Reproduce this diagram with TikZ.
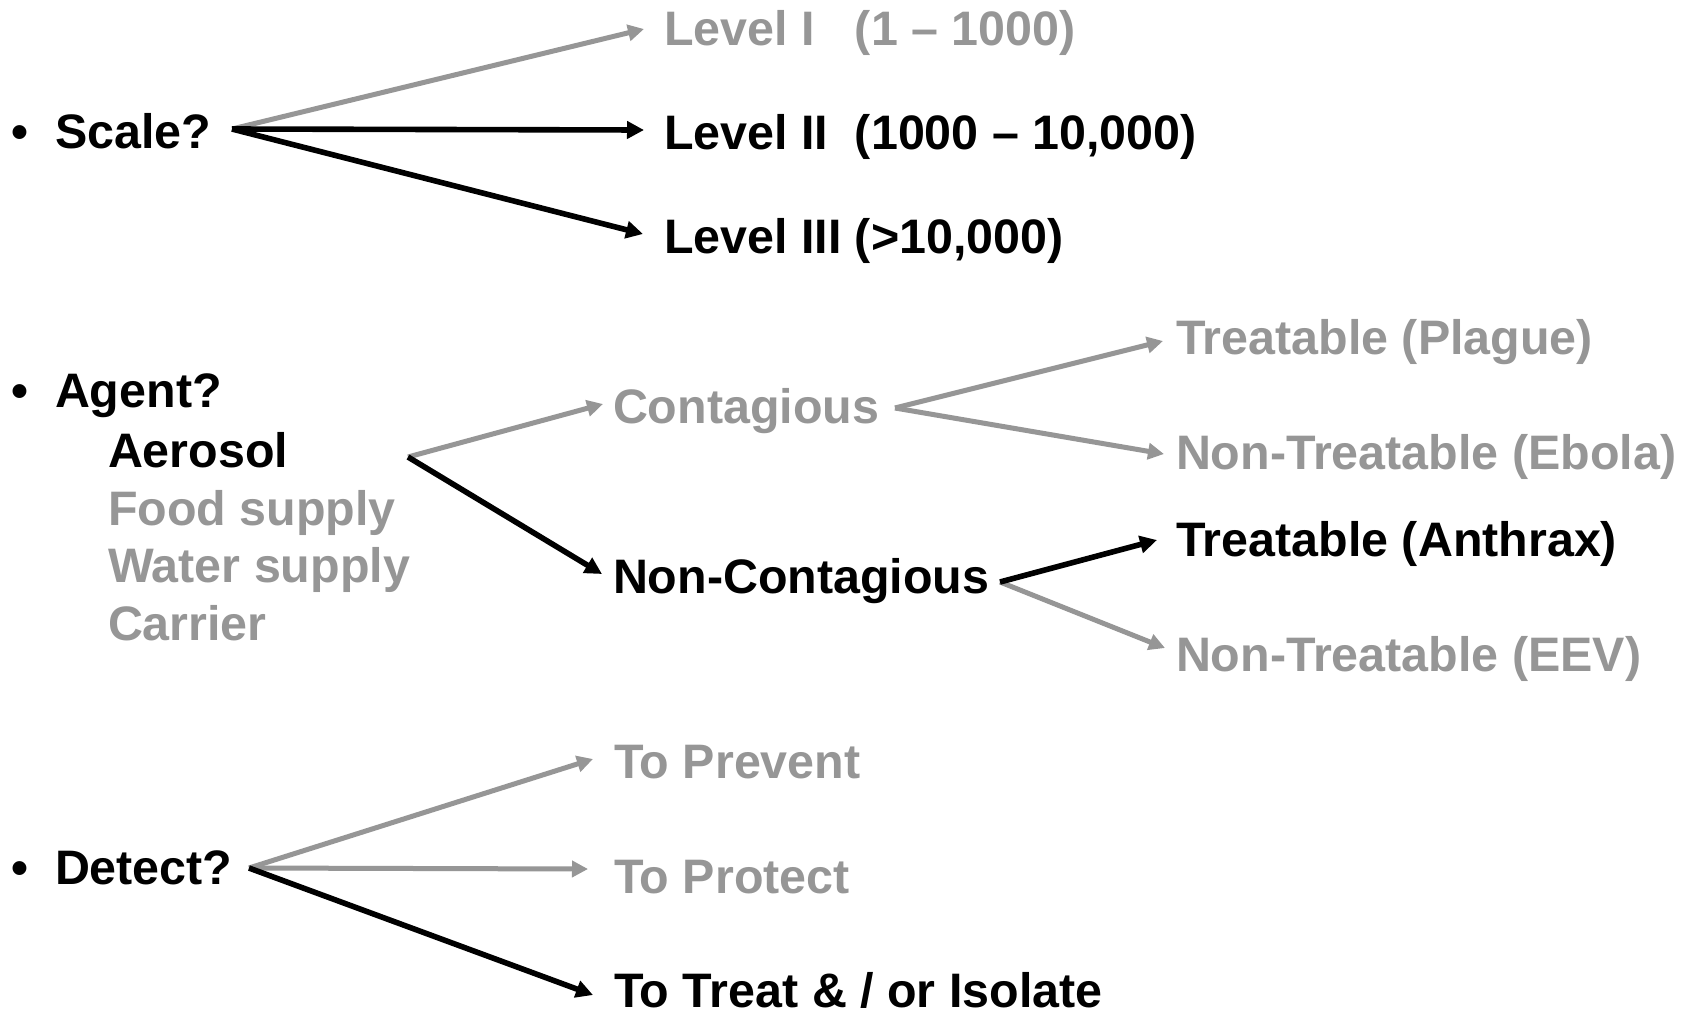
\documentclass[tikz,border=0pt]{standalone}
\usepackage{fontspec}
\setmainfont{Liberation Sans}
\usetikzlibrary{arrows.meta}
\definecolor{greytext}{RGB}{150,150,150}
\begin{document}
\begin{tikzpicture}[x=1pt,y=-1pt,
  lbl/.style={anchor=base west, inner sep=0pt, outer sep=0pt,
    font=\fontsize{48.4}{58}\selectfont\bfseries},
  on/.style={lbl, text=black},
  off/.style={lbl, text=greytext},
  arrblack/.style={draw=black, line width=5.6pt, -{Triangle[length=17pt,width=17pt]}},
  arrgrey/.style={draw=greytext, line width=5pt, -{Triangle[length=16pt,width=16pt]}},
]
\path[fill=white, use as bounding box] (0,0) rectangle (1691,1010);

% ---------- Scale ----------
\node[on] (b1) at (11.5,148) {•};
\node[on] (scale) at (55,148) {Scale?};
\node[off] (l1) at (664,45) {Level I\ \ \ (1 – 1000)};
\node[on]  (l2) at (664,149) {Level II\ \ (1000 – 10,000)};
\node[on]  (l3) at (664,253) {Level III (>10,000)};
\coordinate (sf) at (232,129);
\draw[arrgrey]  (sf) -- ([shift={(-20,-16)}]l1.base west);
\draw[arrblack] (sf) -- ([shift={(-20,-19)}]l2.base west);
\draw[arrblack] (sf) -- ([shift={(-21,-19)}]l3.base west);

% ---------- Agent ----------
\node[on] (b2) at (11.5,407) {•};
\node[on] (agent) at (55,407) {Agent?};
\node[on]  (aero)  at (108,467) {Aerosol};
\node[off] (food)  at (108,525) {Food supply};
\node[off] (water) at (108,582) {Water supply};
\node[off] (carr)  at (108,640) {Carrier};
\node[off] (cont)  at (613,423) {Contagious};
\node[on]  (ncont) at (613,593) {Non-Contagious};
\node[off] (plague)  at (1176,354) {Treatable (Plague)};
\node[off] (ebola)   at (1176,469) {Non-Treatable (Ebola)};
\node[on]  (anthrax) at (1176,556) {Treatable (Anthrax)};
\node[off] (eev)     at (1176,671) {Non-Treatable (EEV)};
\coordinate (af) at (408,457);
\coordinate (cf) at (895,408);
\coordinate (nf) at (1000,582);
\draw[arrgrey]  (af) -- ([shift={(-10,-19)}]cont.base west);
\draw[arrblack] (af) -- ([shift={(-11,-19)}]ncont.base west);
\draw[arrgrey]  (cf) -- ([shift={(-13,-13)}]plague.base west);
\draw[arrgrey]  (cf) -- ([shift={(-12,-15)}]ebola.base west);
\draw[arrgrey]  (nf) -- ([shift={(-11,-23)}]eev.base west);
\draw[arrblack] (nf) -- ([shift={(-19,-16)}]anthrax.base west);

% ---------- Detect ----------
\node[on] (b3) at (11.5,884) {•};
\node[on] (detect) at (55,884) {Detect?};
\node[off] (prevent) at (614,778) {To Prevent};
\node[off] (protect) at (614,893) {To Protect};
\node[on]  (treat)   at (614,1007) {To Treat \& / or Isolate};
\coordinate (df) at (249,868);
\draw[arrgrey]  (df) -- ([shift={(-21,-19)}]prevent.base west);
\draw[arrgrey]  (df) -- ([shift={(-26,-24)}]protect.base west);
\draw[arrblack] (df) -- ([shift={(-21,-12)}]treat.base west);
\end{tikzpicture}
\end{document}
